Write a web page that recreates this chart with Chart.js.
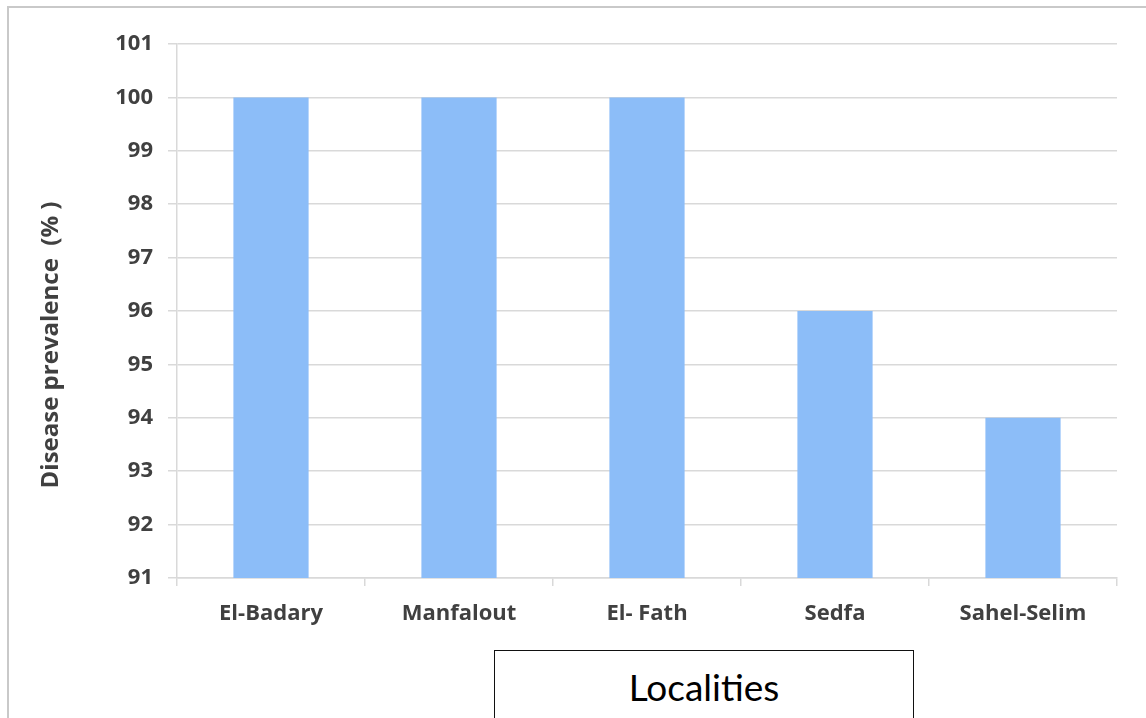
<!DOCTYPE html>
<html>
<head>
<meta charset="utf-8">
<script src="https://cdn.jsdelivr.net/npm/chart.js@4"></script>
<style>
  html, body { margin: 0; padding: 0; background: #fff; overflow: hidden; }
  #frame {
    position: absolute; left: 7px; top: 6px; width: 1150px; height: 720px;
    border-left: 2px solid #c9c9c9; border-top: 2px solid #c9c9c9;
    box-sizing: border-box;
  }
  #wrap { position: absolute; left: 0; top: 0; width: 1146px; height: 718px; }
  #xtitle {
    position: absolute; left: 494px; top: 650px; width: 420px; height: 80px;
    border: 1.5px solid #111; box-sizing: border-box; background: #fff;
    font-family: Lato, "DejaVu Sans", sans-serif;
    font-size: 37px; color: #000; text-align: center; line-height: 72px;
  }
</style>
</head>
<body>
<div id="frame"></div>
<div id="wrap"><canvas id="chart" width="1146" height="718"></canvas></div>
<div id="xtitle">Localities</div>
<script>
// 数据
const localities = ["El-Badary", "Manfalout", "El- Fath", "Sedfa", "Sahel-Selim"];
const prevalence = [100, 100, 100, 96, 94];
const Y_MIN = 91;
const Y_MAX = 101;
const Y_TITLE = "Disease prevalence  (% )";

const GRID = "#d9d9d9";
const TEXT = "#404040";
const BAR = "#8cbdf8";
const FONT = "'Open Sans', sans-serif";

// y 轴标题手动画，位置比默认居中偏下
const yTitlePlugin = {
  id: "yTitle",
  afterDraw(chart) {
    const ctx = chart.ctx;
    ctx.save();
    ctx.translate(51, 345);
    ctx.rotate(-Math.PI / 2);
    ctx.fillStyle = TEXT;
    ctx.font = "bold 24px " + FONT;
    ctx.textAlign = "center";
    ctx.textBaseline = "middle";
    ctx.fillText(Y_TITLE, 0, 0);
    ctx.restore();
  },
};

new Chart(document.getElementById("chart"), {
  type: "bar",
  data: {
    labels: localities,
    datasets: [{
      data: prevalence,
      backgroundColor: BAR,
      borderWidth: 0,
      categoryPercentage: 1,
      barPercentage: 0.4,
    }],
  },
  options: {
    responsive: false,
    animation: false,
    layout: { padding: { top: 44, right: 29, left: 0, bottom: 0 } },
    plugins: { legend: { display: false }, tooltip: { enabled: false } },
    scales: {
      x: {
        offset: true,
        grid: { offset: true, drawOnChartArea: false, drawTicks: true, tickLength: 8, color: GRID, lineWidth: 1.5 },
        border: { color: GRID, width: 1.5 },
        ticks: { color: TEXT, padding: 15, font: { family: FONT, size: 22, weight: "bold" } },
        afterFit(scale) { scale.height = 140; },
      },
      y: {
        min: Y_MIN,
        max: Y_MAX,
        ticks: { stepSize: 1, color: TEXT, padding: 15, font: { family: FONT, size: 22, weight: "bold" } },
        grid: { color: GRID, lineWidth: 1.5, tickLength: 9 },
        border: { color: GRID, width: 1.5 },
        afterFit(scale) { scale.width = 177; },
      },
    },
  },
  plugins: [yTitlePlugin],
});
</script>
</body>
</html>
